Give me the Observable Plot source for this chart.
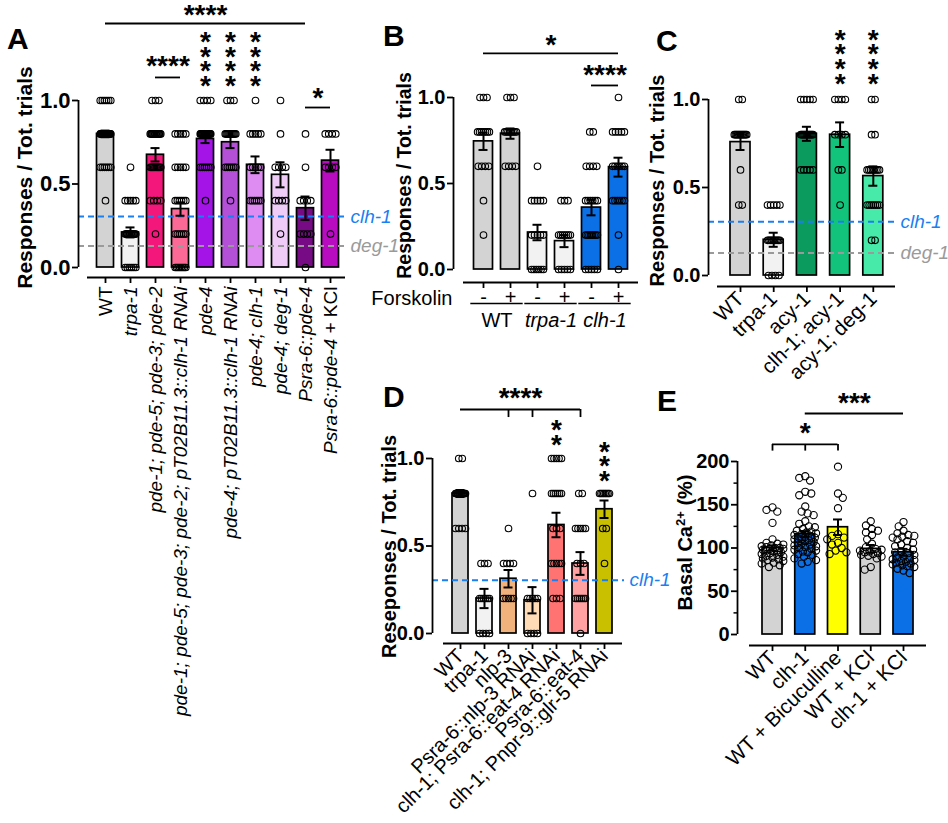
<!DOCTYPE html>
<html><head><meta charset="utf-8">
<script src="https://cdn.jsdelivr.net/npm/d3@7"></script>
<script src="https://cdn.jsdelivr.net/npm/@observablehq/plot@0.6"></script>
<style>
body{margin:0;background:#fff;font-family:"Liberation Sans",Arial,sans-serif}
#root{position:relative;width:948px;height:823px;overflow:hidden;background:#fff}
.panel{position:absolute}
.letter{position:absolute;font-weight:bold;font-size:30px;line-height:1;color:#000}
</style></head><body><div id="root"></div>
<script>
// ---------------- DATA ----------------
const LEVELS = [0, 0.2, 0.4, 0.6, 0.8, 1.0];
const REF_LABELS = ["clh-1", "deg-1"];
const REF_VALUES = [0.305, 0.128];

// Panel A
const A_cats = ["WT", "trpa-1", "pde-1; pde-5; pde-3; pde-2", "pde-1; pde-5; pde-3; pde-2; pT02B11.3::clh-1 RNAi", "pde-4", "pde-4; pT02B11.3::clh-1 RNAi", "pde-4; clh-1", "pde-4; deg-1", "Psra-6::pde-4", "Psra-6::pde-4 + KCl"];
const A_means = [0.80, 0.21, 0.675, 0.35, 0.77, 0.75, 0.615, 0.555, 0.355, 0.64];
const A_sems = [0.02, 0.03, 0.04, 0.04, 0.025, 0.035, 0.05, 0.075, 0.07, 0.065];
const A_colors = ["#d3d3d3", "#f2f2f2", "#f3177b", "#fb6a97", "#a414e6", "#b450d8", "#de8cf2", "#efccf7", "#770b85", "#b70cc0"];
// counts of animals at levels 0, 0.2, 0.4, 0.6, 0.8, 1.0
const A_counts = [[0,0,1,6,22,6],[6,15,5,1,0,0],[0,1,4,10,15,3],[8,6,6,5,5,0],[0,0,1,6,20,4],[0,0,1,6,12,3],[0,0,6,5,5,1],[0,1,4,4,1,1],[1,4,4,1,1,0],[0,1,0,4,4,0]];

// Panel B
const B_cats = ["WT", "WT", "trpa-1", "trpa-1", "clh-1", "clh-1"];
const B_forskolin = ["-", "+", "-", "+", "-", "+"];
const B_groups = ["WT", "trpa-1", "clh-1"];
const B_means = [0.745, 0.79, 0.215, 0.165, 0.36, 0.595];
const B_sems = [0.05, 0.03, 0.045, 0.035, 0.045, 0.055];
const B_colors = ["#d3d3d3", "#d3d3d3", "#f2f2f2", "#f2f2f2", "#0b6fe6", "#0b6fe6"];
const B_counts = [[0,1,1,4,7,3],[0,0,0,4,8,3],[6,5,5,1,0,0],[5,7,3,0,0,0],[5,8,6,4,2,0],[1,1,6,6,5,1]];

// Panel C
const C_cats = ["WT", "trpa-1", "acy-1", "clh-1; acy-1", "acy-1; deg-1"];
const C_means = [0.758, 0.203, 0.805, 0.80, 0.565];
const C_sems = [0.045, 0.04, 0.04, 0.07, 0.055];
const C_colors = ["#d3d3d3", "#f2f2f2", "#0c9b5f", "#12c47b", "#47eaa9"];
const C_counts = [[0,0,2,1,12,2],[4,10,5,0,0,0],[0,0,0,5,12,5],[0,0,1,2,4,4],[0,2,7,8,2,2]];

// Panel D
const D_cats = ["WT", "trpa-1", "nlp-3", "Psra-6::nlp-3 RNAi", "clh-1; Psra-6::eat-4 RNAi", "Psra-6::eat-4", "clh-1; Pnpr-9::glr-5 RNAi"];
const D_means = [0.80, 0.20, 0.313, 0.19, 0.62, 0.40, 0.71];
const D_sems = [0.02, 0.055, 0.05, 0.075, 0.07, 0.065, 0.05];
const D_colors = ["#d3d3d3", "#f2f2f2", "#f2b27c", "#ffdcb6", "#ff7373", "#ffa0a3", "#c9c000"];
const D_counts = [[0,0,0,4,15,2],[4,6,3,0,0,0],[0,5,4,1,0,0],[4,5,0,0,1,0],[0,3,5,3,6,5],[1,6,3,5,2,0],[0,0,1,2,8,0]];

// Panel E
const E_cats = ["WT", "clh-1", "WT + Bicuculline", "WT + KCl", "clh-1 + KCl"];
const E_means = [100, 116, 124, 99, 95];
const E_sems = [3, 3.5, 9, 4.5, 4];
const E_colors = ["#d3d3d3", "#0b6fe6", "#ffff00", "#d3d3d3", "#0b6fe6"];
const E_wt = [147,144,142,129,110,106,105,104,103,102,101,100,100,99,99,98,97,97,96,95,94,93,92,91,90,89,88,87,86,85,83,82,80,78];
const E_clh = [183,181,178,165,163,161,148,142,140,138,131,128,125,124,122,120,119,118,117,116,115,114,113,112,111,110,110,109,108,107,106,105,104,103,102,101,100,99,98,97,96,95,93,92,90,88,86,84,82];
const E_bic = [194,163,158,146,116,114,112,110,106,104,100,97,95,93];
const E_wtkcl = [131,126,122,120,118,115,110,105,101,99,98,97,96,95,94,93,92,91,90,88,78,75];
const E_clhkcl = [130,125,120,117,115,114,113,112,110,108,106,104,102,100,98,96,95,94,92,90,89,88,87,86,85,84,83,82,81,80,79,78,76,74,71];

// ---------------- HELPERS ----------------
const FONT = '"Liberation Sans", Arial, sans-serif';
const BLUE = "#1a7ff2", GREY = "#9a9a9a";
const SVGNS = "http://www.w3.org/2000/svg";
function expandCounts(counts) {
  return counts.map(c => c.flatMap((k, j) => Array(k).fill(LEVELS[j])));
}
function rowLayout(vals, maxSpread, gap) {
  const out = [];
  for (const [v, arr] of d3.group(vals, d => d)) {
    const m = arr.length;
    const s = m > 1 ? Math.min(gap, maxSpread / (m - 1)) : 0;
    arr.forEach((_, k) => out.push({v, off: (k - (m - 1) / 2) * s}));
  }
  return out;
}
function swarmLayout(vals, ppu, maxOff, minD) {
  const placed = [];
  const order = [...vals].sort((a, b) => b - a);
  for (const v of order) {
    const py = v * ppu;
    let best = 0, bestD = -1, found = false;
    for (let k = 0; k * 1.2 <= maxOff && !found; k++) {
      let cands = k === 0 ? [0] : [k * 1.2, -k * 1.2];
      if (placed.length % 2) cands = cands.reverse();
      for (const ox of cands) {
        let md = Infinity;
        for (const p of placed) { const d = Math.hypot(p.ox - ox, p.py - py); if (d < md) md = d; }
        if (md >= minD) { best = ox; found = true; break; }
        if (md > bestD) { bestD = md; best = ox; }
      }
    }
    placed.push({v, py, ox: best});
  }
  return placed.map(p => ({v: p.v, off: p.ox}));
}
const NORMAL = ["WT", "+ KCl", "+ Bicuculline"];
function richify(el) {
  const s = el.textContent;
  el.textContent = "";
  s.split(/(WT|\+ KCl|\+ Bicuculline)/).filter(p => p !== "").forEach(p => {
    const t = document.createElementNS(SVGNS, "tspan");
    t.textContent = p;
    t.setAttribute("font-style", NORMAL.includes(p) ? "normal" : "italic");
    el.appendChild(t);
  });
}

function buildPanel(P) {
  const n = P.cats.length;
  const ppu = (P.y0Px - P.yTopPx) / (P.yDomain[1] - P.yDomain[0]);
  const toX = px => (px - P.center0) / P.step;
  const toY = py => P.yDomain[0] + (P.y0Px - py) / ppu;
  const hw = P.barW / 2 / P.step, cap = 4.5 / P.step;
  const rows = P.cats.map((c, i) => ({i, mean: P.means[i], sem: P.sems[i], color: P.colors[i]}));
  const pts = [];
  P.points.forEach((vals, i) => {
    const lay = P.swarm ? swarmLayout(vals, ppu, P.barW * 0.55, 6.0) : rowLayout(vals, P.barW * 0.62, 3.5);
    lay.forEach(p => pts.push({x: i + p.off / P.step, v: p.v}));
  });
  const marks = [];
  marks.push(Plot.rect(rows, {x1: d => d.i - hw, x2: d => d.i + hw, y1: P.yDomain[0], y2: "mean", fill: "color", stroke: "black", strokeWidth: 1.7}));
  (P.refs || []).forEach(r => {
    marks.push(Plot.ruleY([r.value], {x1: toX(P.axisXPx), x2: toX(P.refEndPx), stroke: r.color, strokeWidth: 2, strokeDasharray: "6,4"}));
    marks.push(Plot.text([r.label], {x: toX(P.refEndPx), y: r.value, dx: 5, textAnchor: "start", fill: r.color, fontSize: 19, fontStyle: "italic"}));
  });
  marks.push(Plot.dot(pts, {x: "x", y: "v", r: P.swarm ? 3.6 : 3.3, fill: "none", stroke: "black", strokeWidth: 1.1}));
  marks.push(Plot.ruleX(rows, {x: "i", y1: d => d.mean - d.sem, y2: d => d.mean + d.sem, stroke: "black", strokeWidth: 2}));
  marks.push(Plot.ruleY(rows, {y: d => d.mean + d.sem, x1: d => d.i - cap, x2: d => d.i + cap, stroke: "black", strokeWidth: 2}));
  marks.push(Plot.ruleY(rows, {y: d => d.mean - d.sem, x1: d => d.i - cap, x2: d => d.i + cap, stroke: "black", strokeWidth: 2}));
  // axes
  marks.push(Plot.axisY({ticks: P.yTicks, tickFormat: P.yFmt, tickSize: 6, tickPadding: 2, fontSize: P.yTickFont, fontWeight: "bold", strokeWidth: 1.8, label: null}));
  if (P.yMinor) marks.push(Plot.axisY({ticks: P.yMinor, tickFormat: () => "", tickSize: 3.5, strokeWidth: 1.5, label: null}));
  marks.push(Plot.ruleX([toX(P.axisXPx)], {y1: P.yDomain[0], y2: P.yDomain[1], stroke: "black", strokeWidth: 1.8}));
  marks.push(Plot.ruleY([toY(P.frameBottomPx)], {x1: toX(P.xAxisLo), x2: toX(P.xAxisHi), stroke: "black", strokeWidth: 1.8}));
  marks.push(Plot.axisX({ticks: d3.range(n), tickFormat: i => P.tickLabels[i], tickRotate: P.rot, tickSize: 6, tickPadding: P.tickPad, fontSize: P.xFont, strokeWidth: 1.8, label: null}));
  // title
  marks.push(Plot.text([P.yTitle], {x: toX(P.titleX), y: toY(P.titleY), rotate: -90, fontSize: P.titleFont, fontWeight: "bold", textAnchor: "middle", lineAnchor: "middle"}));
  // significance
  (P.stars || []).forEach(s => marks.push(Plot.text([s.t], {x: s.x, y: s.y, fontSize: 28, fontWeight: "bold", lineHeight: 0.52, lineAnchor: "middle", dy: 7})));
  (P.lines || []).forEach(b => {
    marks.push(Plot.ruleY([b.y], {x1: b.x1, x2: b.x2, stroke: "black", strokeWidth: 1.8}));
    if (b.ticks) marks.push(Plot.ruleX(b.ticks, {y1: b.tickY, y2: b.y, stroke: "black", strokeWidth: 1.8}));
  });
  if (P.extra) marks.push(...P.extra({toX, toY}));

  const svg = Plot.plot({
    width: P.width, height: P.height,
    marginLeft: P.axisXPx - P.left, marginTop: P.yTopPx - P.top, marginRight: 5,
    marginBottom: P.top + P.height - P.frameBottomPx,
    x: {domain: [-0.5, n - 0.5], range: [P.center0 - P.step / 2 - P.left, P.center0 + (n - 0.5) * P.step - P.left]},
    y: {domain: P.yDomain, range: [P.y0Px - P.top, P.yTopPx - P.top]},
    color: {type: "identity"},
    style: {fontFamily: FONT, fontSize: "20px", background: "none", overflow: "visible", color: "black"},
    marks
  });
  if (P.rich) svg.querySelectorAll('g[aria-label="x-axis tick label"] text').forEach(richify);
  if (P.richTexts) svg.querySelectorAll("text").forEach(el => { if (P.richTexts.includes(el.textContent)) richify(el); });
  if (P.sup) {
    svg.querySelectorAll("text").forEach(el => {
      if (el.textContent !== P.yTitle) return;
      const [a, b, c] = P.sup;
      el.textContent = "";
      const mk = (txt, attrs) => { const t = document.createElementNS(SVGNS, "tspan"); t.textContent = txt; for (const k in attrs) t.setAttribute(k, attrs[k]); el.appendChild(t); };
      mk(a, {}); mk(b, {"baseline-shift": "super", "font-size": "13px"}); mk(c, {});
    });
  }
  const div = document.createElement("div");
  div.className = "panel";
  div.style.left = P.left + "px"; div.style.top = P.top + "px";
  div.appendChild(svg);
  document.getElementById("root").appendChild(div);
}
function letter(t, x, y) {
  const d = document.createElement("div");
  d.className = "letter"; d.textContent = t; d.style.left = x + "px"; d.style.top = y + "px";
  document.getElementById("root").appendChild(d);
}
const STACK4 = "*\n*\n*\n*";

// ---------------- PANELS ----------------
buildPanel({
  left: 0, top: 0, width: 380, height: 740,
  axisXPx: 78, yTopPx: 100, y0Px: 267, frameBottomPx: 277, center0: 105, step: 25, barW: 17,
  xAxisLo: 87, xAxisHi: 345, refEndPx: 345,
  yDomain: [0, 1], yTicks: [0, 0.5, 1], yFmt: d3.format(".1f"), yTickFont: 22,
  cats: A_cats, tickLabels: A_cats, means: A_means, sems: A_sems, colors: A_colors, points: expandCounts(A_counts),
  rot: -90, xFont: 19, tickPad: 3, rich: true,
  refs: [{label: REF_LABELS[0], value: REF_VALUES[0], color: BLUE}, {label: REF_LABELS[1], value: REF_VALUES[1], color: GREY}],
  yTitle: "Responses / Tot. trials", titleX: 25, titleY: 177, titleFont: 21,
  stars: [{x: 4, y: 1.527, t: "****"}, {x: 2.5, y: 1.222, t: "****"}, {x: 4, y: 1.234, t: STACK4}, {x: 5, y: 1.234, t: STACK4}, {x: 6, y: 1.234, t: STACK4}, {x: 8.5, y: 1.03, t: "*"}],
  lines: [{x1: 0, x2: 8, y: 1.461}, {x1: 2, x2: 3, y: 1.138}, {x1: 8, x2: 9, y: 0.958}]
});

buildPanel({
  left: 380, top: 0, width: 260, height: 340,
  axisXPx: 453, yTopPx: 97, y0Px: 269, frameBottomPx: 282, center0: 483, step: 27, barW: 19,
  xAxisLo: 463, xAxisHi: 638,
  yDomain: [0, 1], yTicks: [0, 0.5, 1], yFmt: d3.format(".1f"), yTickFont: 20,
  cats: B_cats, tickLabels: B_forskolin, means: B_means, sems: B_sems, colors: B_colors, points: expandCounts(B_counts),
  rot: 0, xFont: 20, tickPad: 1, richTexts: ["trpa-1", "clh-1"],
  yTitle: "Responses / Tot. trials", titleX: 404, titleY: 175, titleFont: 19.5,
  stars: [{x: 2.5, y: 1.32, t: "*"}, {x: 4.5, y: 1.145, t: "****"}],
  lines: [{x1: 0, x2: 5, y: 1.256}, {x1: 4, x2: 5, y: 1.07}],
  extra: ({toX, toY}) => [
    Plot.text(["Forskolin"], {x: toX(452), y: toY(298), textAnchor: "end", lineAnchor: "middle", fontSize: 20}),
    Plot.ruleY(B_groups.map((g, k) => k), {y: toY(303), x1: k => 2 * k - 0.47, x2: k => 2 * k + 1.47, stroke: "black", strokeWidth: 1.5}),
    Plot.text(B_groups, {x: (g, k) => 2 * k + 0.5, y: toY(320), lineAnchor: "middle", fontSize: 20})
  ]
});

buildPanel({
  left: 630, top: 0, width: 318, height: 400,
  axisXPx: 708, yTopPx: 99, y0Px: 275, frameBottomPx: 286, center0: 740, step: 33.2, barW: 20,
  xAxisLo: 717, xAxisHi: 895, refEndPx: 895,
  yDomain: [0, 1], yTicks: [0, 0.5, 1], yFmt: d3.format(".1f"), yTickFont: 20,
  cats: C_cats, tickLabels: C_cats, means: C_means, sems: C_sems, colors: C_colors, points: expandCounts(C_counts),
  rot: -45, xFont: 20.5, tickPad: 3,
  refs: [{label: REF_LABELS[0], value: REF_VALUES[0], color: BLUE}, {label: REF_LABELS[1], value: REF_VALUES[1], color: GREY}],
  yTitle: "Responses / Tot. trials", titleX: 657, titleY: 180, titleFont: 20,
  stars: [{x: 3, y: 1.23, t: STACK4}, {x: 4, y: 1.23, t: STACK4}]
});

buildPanel({
  left: 380, top: 380, width: 250, height: 443,
  axisXPx: 432, yTopPx: 458, y0Px: 633, frameBottomPx: 643, center0: 460, step: 24, barW: 16,
  xAxisLo: 443, xAxisHi: 622, refEndPx: 624,
  yDomain: [0, 1], yTicks: [0, 0.5, 1], yFmt: d3.format(".1f"), yTickFont: 20,
  cats: D_cats, tickLabels: D_cats, means: D_means, sems: D_sems, colors: D_colors, points: expandCounts(D_counts),
  rot: -45, xFont: 20, tickPad: 3,
  refs: [{label: REF_LABELS[0], value: REF_VALUES[0], color: BLUE}],
  yTitle: "Reseponses / Tot. trials", titleX: 389, titleY: 546, titleFont: 20,
  stars: [{x: 2.5, y: 1.36, t: "****"}, {x: 4, y: 1.134, t: "*\n*"}, {x: 6, y: 0.97, t: "*\n*\n*"}],
  lines: [{x1: 0, x2: 5, y: 1.28, ticks: [2, 3, 5], tickY: 1.234}]
});

buildPanel({
  left: 630, top: 380, width: 318, height: 443,
  axisXPx: 737, yTopPx: 461, y0Px: 634, frameBottomPx: 645, center0: 772, step: 32.75, barW: 20,
  xAxisLo: 749, xAxisHi: 926,
  yDomain: [0, 200], yTicks: [0, 50, 100, 150, 200], yMinor: [25, 75, 125, 175], yFmt: d => String(d), yTickFont: 20,
  cats: E_cats, tickLabels: E_cats, means: E_means, sems: E_sems, colors: E_colors,
  points: [E_wt, E_clh, E_bic, E_wtkcl, E_clhkcl], swarm: true,
  rot: -45, xFont: 20.5, tickPad: 3,
  yTitle: "Basal Ca2+ (%)", sup: ["Basal Ca", "2+", " (%)"], titleX: 685, titleY: 542, titleFont: 20,
  stars: [{x: 1, y: 236, t: "*"}, {x: 2.5, y: 270.5, t: "***"}],
  lines: [{x1: 0, x2: 2, y: 219.7, ticks: [0, 1, 2], tickY: 212}, {x1: 1, x2: 4, y: 255.5}]
});

letter("A", 7, 24);
letter("B", 383, 21);
letter("C", 656, 26);
letter("D", 383, 382);
letter("E", 657, 386);
</script></body></html>
